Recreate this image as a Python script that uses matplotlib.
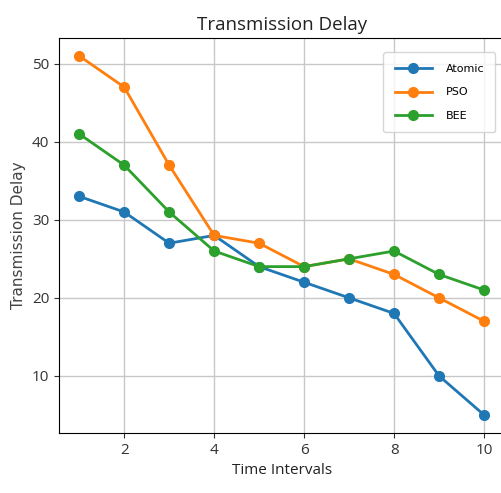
import matplotlib.pyplot as plt

time_intervals = [1, 2, 3, 4, 5, 6, 7, 8, 9, 10]
atomic = [33, 31, 27, 28, 24, 22, 20, 18, 10, 5]
pso = [51, 47, 37, 28, 27, 24, 25, 23, 20, 17]
bee = [41, 37, 31, 26, 24, 24, 25, 26, 23, 21]

fig = plt.figure(figsize=(5.02, 4.93), dpi=100)
ax = fig.add_axes([0.1175, 0.122, 0.887, 0.801])

ax.plot(time_intervals, atomic, marker='o', markersize=7, linewidth=2, label='Atomic')
ax.plot(time_intervals, pso, marker='o', markersize=7, linewidth=2, label='PSO')
ax.plot(time_intervals, bee, marker='o', markersize=7, linewidth=2, label='BEE')

ax.set_xticks([2, 4, 6, 8, 10])
ax.set_yticks([10, 20, 30, 40, 50])
ax.tick_params(labelsize=11, colors='#333333')
for lab in ax.get_xticklabels() + ax.get_yticklabels():
    lab.set_family('Open Sans')
ax.set_title('Transmission Delay', fontsize=13.5, family='Open Sans', color='#222222')
ax.set_xlabel('Time Intervals', fontsize=11, family='Open Sans', color='#222222')
ax.set_ylabel('Transmission Delay', fontsize=11, color='#444444')
ax.grid(True, color='#c8c8c8', linewidth=1)
ax.legend(loc='upper right', bbox_to_anchor=(0.998, 0.905), bbox_transform=fig.transFigure,
          fontsize=8, handlelength=3.4, borderpad=1.0, labelspacing=1.25, handletextpad=1.2)

fig.savefig('out.png', dpi=100)
